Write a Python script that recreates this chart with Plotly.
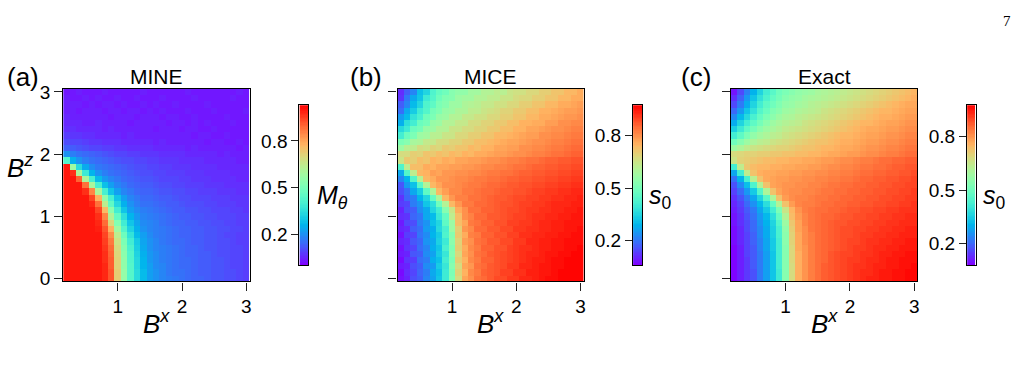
import math
import plotly.graph_objects as go

# ---------------- data ----------------
bx = [0.2, 0.3, 0.4, 0.5, 0.6, 0.7, 0.8, 0.9, 1.0, 1.1, 1.2, 1.3, 1.4, 1.5, 1.6,
      1.7, 1.8, 1.9, 2.0, 2.1, 2.2, 2.3, 2.4, 2.5, 2.6, 2.7, 2.8, 2.9, 3.0]
bz = [3.0, 2.9, 2.8, 2.7, 2.6, 2.5, 2.4, 2.3, 2.2, 2.1, 2.0, 1.9, 1.8, 1.7, 1.6,
      1.5, 1.4, 1.3, 1.2, 1.1, 1.0, 0.9, 0.8, 0.7, 0.6, 0.5, 0.4, 0.3, 0.2, 0.1, 0.0]

# values x100, one string per B^z row (top row first), one entry per B^x column
mine_rows = [
    "3 3 4 3 3 3 4 3 3 3 3 3 4 3 3 3 3 3 3 4 3 3 3 3 3 3 3 4 3",
    "4 3 3 4 3 4 3 3 4 3 3 4 3 3 3 4 3 3 3 3 4 3 3 3 3 3 4 3 3",
    "4 4 4 3 4 3 4 4 3 4 3 3 4 3 4 3 3 4 3 3 3 3 4 3 3 3 3 3 3",
    "4 4 3 4 4 4 3 4 4 3 4 4 3 4 3 4 3 3 3 4 3 3 3 4 3 3 3 3 4",
    "5 4 4 4 4 4 4 3 4 4 4 3 4 4 4 3 4 4 3 3 4 3 3 3 3 4 3 3 3",
    "5 5 5 4 4 5 4 4 4 4 3 4 4 4 4 4 3 4 4 3 4 3 4 3 3 3 4 3 3",
    "6 6 5 5 5 5 4 5 4 4 4 4 4 4 3 4 4 4 3 4 4 3 3 4 3 3 3 3 3",
    "8 7 7 6 6 5 5 5 5 4 5 4 4 4 4 4 4 4 4 4 3 4 4 3 3 4 3 3 3",
    "10 9 9 8 7 7 6 6 6 5 5 5 5 5 4 5 4 4 4 4 4 4 3 4 4 3 3 4 3",
    "13 12 11 10 9 9 8 8 7 7 6 6 6 6 5 5 5 5 5 4 5 4 4 4 4 4 4 3 4",
    "20 17 15 14 13 12 11 10 9 9 8 8 7 7 7 6 6 6 6 5 5 5 5 5 4 5 4 4 4",
    "42 25 20 17 15 14 13 12 11 10 10 9 9 8 8 7 7 7 6 6 6 6 5 5 5 5 5 4 4",
    "100 58 34 24 19 16 15 14 13 12 11 10 10 9 9 8 8 7 7 7 6 6 6 6 5 5 5 5 5",
    "100 97 60 38 26 20 17 15 14 13 12 11 10 10 9 9 8 8 8 7 7 7 6 6 6 6 5 5 5",
    "100 100 90 60 40 27 21 18 16 14 13 12 11 11 10 9 9 9 8 8 7 7 7 6 6 6 6 5 5",
    "100 100 100 88 60 40 28 22 18 16 14 13 12 12 11 10 10 9 9 8 8 8 7 7 7 6 6 6 6",
    "100 100 100 97 85 60 40 29 22 18 16 14 13 13 12 11 11 10 10 9 9 8 8 8 7 7 7 6 6",
    "100 100 100 100 94 78 55 40 29 22 18 16 14 14 13 12 12 11 10 10 9 9 9 8 8 8 7 7 7",
    "100 100 100 100 98 88 64 45 33 25 20 17 15 15 14 13 12 12 11 10 10 10 9 9 8 8 8 7 7",
    "100 100 100 100 100 94 76 54 39 29 22 19 17 16 15 14 13 12 12 11 11 10 10 9 9 9 8 8 7",
    "100 100 100 100 100 97 85 62 46 35 26 21 18 17 16 15 14 13 12 12 11 11 10 10 9 9 9 8 8",
    "100 100 100 100 100 98 89 70 52 39 29 23 19 18 17 15 14 13 13 12 12 11 11 10 10 9 9 8 8",
    "100 100 100 100 100 99 92 78 58 43 32 25 20 18 17 16 15 14 13 13 12 12 11 11 10 10 9 9 8",
    "100 100 100 100 100 100 94 84 64 48 36 27 22 19 17 16 15 14 13 13 12 12 11 11 10 9 9 8 8",
    "100 100 100 100 100 100 95 87 67 51 39 30 23 20 18 16 15 14 14 13 12 12 11 11 10 10 9 8 8",
    "100 100 100 100 100 100 96 89 69 53 41 31 24 20 18 17 16 15 14 13 13 12 11 11 10 10 9 9 8",
    "100 100 100 100 100 100 97 90 70 54 42 32 25 21 19 17 16 15 14 13 13 12 12 11 10 10 9 9 8",
    "100 100 100 100 100 100 97 91 71 55 42 33 26 21 19 17 16 15 14 14 13 12 12 11 11 10 9 9 8",
    "100 100 100 100 100 100 98 91 71 55 43 33 26 22 19 18 16 15 14 14 13 12 12 11 11 10 9 9 8",
    "100 100 100 100 100 100 98 92 72 56 43 34 27 22 20 18 16 15 15 14 13 12 12 11 11 10 10 9 8",
    "100 100 100 100 100 100 98 92 72 56 43 34 27 22 20 18 17 16 15 14 13 13 12 11 11 10 10 9 8",
]

mice_rows = [
    "11 17 22 31 35 43 47 49 53 55 55 58 58 61 61 63 62 65 66 66 68 68 70 70 72 72 74 74 76",
    "12 20 27 32 40 44 49 52 53 57 58 58 61 61 63 63 65 65 67 68 68 70 70 72 72 74 74 76 76",
    "17 22 30 35 43 46 51 53 57 57 60 61 62 64 64 66 66 68 68 70 70 72 72 74 74 76 76 77 78",
    "19 27 33 40 44 50 52 56 57 60 60 63 63 65 66 67 69 69 71 71 73 73 75 75 76 77 78 78 79",
    "25 30 38 42 49 51 56 57 61 61 64 64 66 66 68 68 70 70 72 72 74 74 76 76 77 78 79 79 80",
    "28 37 41 48 50 56 57 61 61 64 64 67 67 69 69 71 71 73 73 75 75 76 76 78 78 80 80 81 81",
    "36 40 48 50 56 57 61 61 65 65 67 67 69 69 71 71 73 73 75 75 77 77 78 79 80 80 81 82 82",
    "41 48 51 57 58 62 62 65 65 68 68 70 70 72 72 74 74 75 76 77 78 78 80 80 81 81 82 83 83",
    "51 53 59 60 64 64 67 67 69 69 71 71 73 73 74 75 76 77 77 78 79 80 80 81 82 82 83 84 84",
    "57 62 63 67 66 69 68 71 70 72 72 74 73 75 75 77 77 78 78 80 80 81 81 82 83 83 84 85 85",
    "67 67 70 69 72 71 73 72 74 73 75 74 76 76 77 78 78 79 80 80 81 82 82 83 84 84 85 86 86",
    "65 71 70 73 72 75 74 76 75 77 77 78 78 79 80 80 81 82 82 83 84 84 85 86 86 87 87 88 88",
    "43 63 73 73 76 75 77 77 78 78 79 79 80 81 81 82 82 83 84 84 85 86 86 87 87 88 88 89 89",
    "27 44 63 74 75 78 77 79 79 80 80 81 81 82 83 83 84 84 85 86 86 87 87 88 88 89 89 90 90",
    "22 29 44 62 74 76 79 79 80 81 81 82 83 83 84 84 85 86 86 87 87 88 88 89 89 90 90 91 91",
    "16 25 31 45 61 74 77 80 80 81 82 83 83 84 85 85 86 87 87 88 88 89 89 90 90 91 91 92 92",
    "15 19 27 33 46 60 74 78 81 81 83 83 84 85 85 86 87 87 88 88 89 90 90 91 91 92 92 93 93",
    "12 18 21 29 35 47 60 74 79 82 82 84 84 85 86 87 87 88 89 89 90 90 91 91 92 92 93 93 94",
    "13 14 21 24 32 37 49 61 74 79 83 83 85 85 86 87 88 88 89 90 90 91 91 92 93 93 93 94 94",
    "10 15 17 23 27 35 41 53 65 76 80 84 84 86 86 87 88 89 89 90 91 91 92 92 93 93 94 94 95",
    "11 12 18 20 27 30 39 47 63 73 80 82 85 85 87 87 88 89 90 90 91 92 92 93 93 94 94 95 95",
    "9 14 15 21 24 31 35 46 57 73 77 83 84 86 86 88 88 90 90 91 91 92 93 93 94 94 95 95 95",
    "10 11 17 19 25 28 36 42 57 70 79 81 85 85 87 87 89 89 91 91 92 92 93 93 94 94 95 95 96",
    "8 13 14 20 23 29 33 43 53 71 76 82 83 86 86 88 88 90 90 92 92 93 93 94 94 95 95 96 96",
    "10 11 16 18 24 27 34 40 54 69 78 80 84 85 87 87 89 89 91 91 93 93 94 94 95 95 96 96 96",
    "8 12 14 19 22 28 32 42 52 70 76 81 83 86 86 88 88 90 91 92 92 93 94 94 95 95 96 96 97",
    "9 10 16 17 23 26 33 39 53 68 77 80 84 85 87 88 89 90 91 92 93 93 94 95 95 96 96 97 97",
    "7 12 13 19 21 28 31 41 51 70 75 81 83 86 86 88 89 90 91 92 93 94 94 95 96 96 97 97 97",
    "9 10 15 17 23 25 33 39 53 67 77 79 84 85 87 88 89 91 91 93 93 94 95 95 96 96 97 97 97",
    "7 11 14 18 21 27 31 40 51 69 75 81 83 86 87 88 90 90 92 92 94 94 95 95 96 97 97 97 97",
    "8 10 15 17 22 26 32 40 52 67 77 80 84 85 87 89 89 91 91 93 93 94 95 96 96 97 97 97 97",
]

exact_rows = [
    "10 16 23 30 36 42 46 50 52 54 56 57 58 60 61 62 63 64 65 66 67 68 69 70 71 72 73 74 75",
    "13 19 26 33 39 44 48 51 54 56 57 59 60 61 62 63 64 65 66 67 68 69 70 71 72 73 74 75 76",
    "16 22 29 36 42 47 50 53 56 57 59 60 62 63 64 65 66 67 68 69 70 71 72 73 74 75 76 77 77",
    "20 26 33 39 45 49 53 55 58 59 61 62 63 64 66 67 68 69 70 71 72 73 74 75 75 76 77 78 78",
    "24 31 37 43 48 52 55 58 60 61 63 64 65 66 67 68 69 70 71 72 73 74 75 76 76 77 78 79 79",
    "29 36 42 47 51 55 58 60 62 63 64 66 67 68 69 70 71 72 73 74 75 75 76 77 78 78 79 80 80",
    "35 41 47 51 55 58 60 62 64 65 66 67 68 69 70 71 72 73 74 75 76 77 77 78 79 79 80 81 81",
    "42 47 52 56 59 61 63 64 66 67 68 69 70 71 72 73 74 75 75 76 77 78 78 79 80 80 81 82 82",
    "50 54 58 61 63 64 66 67 68 69 70 71 72 73 73 74 75 76 76 77 78 79 79 80 81 81 82 83 83",
    "58 61 64 66 67 68 69 70 70 71 72 73 73 74 75 75 76 77 77 78 79 80 80 81 82 82 83 84 84",
    "68 69 70 70 71 71 72 72 73 73 74 74 75 75 76 77 77 78 79 79 80 81 81 82 83 83 84 85 85",
    "66 70 71 72 73 74 74 75 75 76 76 77 77 78 79 79 80 81 81 82 83 83 84 85 85 86 86 87 87",
    "42 64 72 74 75 75 76 76 77 77 78 78 79 79 80 81 81 82 82 83 84 84 85 85 86 87 87 88 88",
    "28 42 64 73 76 77 77 78 78 79 79 80 80 81 81 82 82 83 83 84 85 85 86 86 87 87 88 88 89",
    "21 30 43 63 73 77 78 79 79 80 80 81 81 82 82 83 83 84 84 85 86 86 87 87 88 88 89 89 90",
    "17 24 32 44 62 73 78 79 80 80 81 81 82 82 83 84 84 85 85 86 86 87 87 88 88 89 89 90 90",
    "15 20 26 34 45 61 73 78 80 81 81 82 82 83 84 84 85 85 86 86 87 87 88 88 89 89 90 90 91",
    "13 17 22 28 36 46 61 73 79 81 82 82 83 84 84 85 85 86 86 87 87 88 88 89 89 90 90 91 91",
    "12 15 20 25 31 38 48 62 73 79 82 83 83 84 85 85 86 86 87 87 88 88 89 89 90 90 91 91 92",
    "11 14 18 22 28 34 42 52 66 75 80 83 84 85 85 86 86 87 88 88 89 89 90 90 91 91 92 92 92",
    "10 13 17 21 26 31 38 48 62 74 79 82 84 85 86 86 87 88 88 89 89 90 90 91 91 92 92 93 93",
    "10 13 16 20 25 30 36 45 58 72 78 82 84 85 86 87 88 88 89 89 90 90 91 91 92 92 93 93 93",
    "9 12 16 20 24 29 35 43 56 71 78 81 84 85 86 87 88 89 89 90 90 91 91 92 92 93 93 94 94",
    "9 12 15 19 24 29 35 43 55 70 77 81 83 85 86 87 88 89 89 90 91 91 92 92 93 93 94 94 94",
    "9 12 15 19 23 28 34 42 55 70 77 81 83 85 86 87 88 89 90 90 91 92 92 93 93 94 94 95 95",
    "8 11 15 18 23 28 34 42 54 69 77 80 83 85 86 87 88 89 90 91 91 92 93 93 94 94 95 95 95",
    "8 11 15 18 22 27 33 42 54 69 76 80 83 85 86 88 89 90 90 91 92 92 93 94 94 95 95 96 96",
    "8 11 14 18 22 27 33 42 54 69 76 80 83 85 86 88 89 90 91 91 92 93 93 94 95 95 96 96 96",
    "8 11 14 18 22 27 33 42 54 68 76 80 83 85 87 88 89 90 91 92 92 93 94 94 95 95 96 96 97",
    "8 11 14 17 22 27 33 41 54 68 76 80 83 85 87 88 89 90 91 92 93 93 94 95 95 96 96 97 97",
    "8 11 14 17 22 27 33 41 54 68 76 80 83 85 87 88 89 90 91 92 93 94 94 95 95 96 96 97 97",
]

panel_titles = ["MINE", "MICE", "Exact"]
panel_tags = ["(a)", "(b)", "(c)"]
cbar_titles = ["<i>M</i><sub><i>θ</i></sub>", "<i>s</i><sub>0</sub>", "<i>s</i><sub>0</sub>"]
cbar_ranges = [(0.0, 1.03), (0.06, 0.975), (0.077, 0.978)]
cbar_ticks = [0.2, 0.5, 0.8]
x_ticks = [1, 2, 3]
z_ticks = [0, 1, 2, 3]


def parse(rows):
    return [[int(v) / 100.0 for v in r.split()] for r in rows]


panels = [parse(mine_rows), parse(mice_rows), parse(exact_rows)]

# matplotlib-like "rainbow" colour map
colorscale = []
for i in range(41):
    t = i / 40
    r = min(1.0, abs(2 * t - 0.5))
    g = max(0.0, math.sin(math.pi * t))
    b = max(0.0, math.cos(math.pi * t / 2))
    colorscale.append([t, "rgb(%d,%d,%d)" % (round(r * 255), round(g * 255), round(b * 255))])

W, H = 1021, 379
FONT = "Liberation Sans, Arial, sans-serif"
TICK_SIZE = 19


def fx(px):
    return px / W


def fy(py):
    return 1 - py / H


plot_x = [(63.3, 250.0), (398.3, 585.0), (732.3, 919.3)]
plot_y = (85.0, 285.0)
cb_x = [(300.0, 309.0), (634.3, 643.3), (969.0, 977.5)]
cb_y = (102.0, 268.0)
cb_title_x = [316.0, 648.0, 983.0]

fig = go.Figure()
layout = dict(
    width=W, height=H, margin=dict(l=0, r=0, t=0, b=0),
    paper_bgcolor="white", plot_bgcolor="white",
    font=dict(family=FONT, size=TICK_SIZE, color="black"),
    showlegend=False,
)
annotations = []

for i in range(3):
    ax = i + 1
    xa = "x" if ax == 1 else "x%d" % ax
    ya = "y" if ax == 1 else "y%d" % ax
    fig.add_trace(go.Heatmap(
        x=bx, y=bz, z=panels[i], colorscale=colorscale,
        zmin=cbar_ranges[i][0], zmax=cbar_ranges[i][1],
        showscale=False, xaxis=xa, yaxis=ya, hoverinfo="skip",
    ))
    layout["xaxis" if ax == 1 else "xaxis%d" % ax] = dict(
        domain=[fx(plot_x[i][0]), fx(plot_x[i][1])], range=[0.15, 3.05],
        anchor=ya, tickvals=x_ticks, ticks="outside", ticklen=8, tickwidth=1.2,
        tickcolor="#222", showline=True, mirror=True, linecolor="black", linewidth=1.2,
        showgrid=False, zeroline=False, tickfont=dict(size=TICK_SIZE, family=FONT),
    )
    layout["yaxis" if ax == 1 else "yaxis%d" % ax] = dict(
        domain=[fy(plot_y[1]), fy(plot_y[0])], range=[-0.05, 3.05],
        anchor=xa, tickvals=z_ticks, ticks="outside", ticklen=8, tickwidth=1.2,
        tickcolor="#222", showline=True, mirror=True, linecolor="black", linewidth=1.2,
        showgrid=False, zeroline=False, tickfont=dict(size=TICK_SIZE, family=FONT),
        showticklabels=(i == 0),
    )

    # colour bar drawn on its own small axes
    cax = i + 4
    cxa, cya = "x%d" % cax, "y%d" % cax
    lo, hi = cbar_ranges[i]
    n = 120
    vals = [lo + (hi - lo) * k / (n - 1) for k in range(n)]
    fig.add_trace(go.Heatmap(
        x=[0], y=vals, z=[[v] for v in vals], colorscale=colorscale,
        zmin=lo, zmax=hi, showscale=False, xaxis=cxa, yaxis=cya, hoverinfo="skip",
    ))
    layout["xaxis%d" % cax] = dict(
        domain=[fx(cb_x[i][0]), fx(cb_x[i][1])], range=[-0.5, 0.5], anchor=cya,
        showticklabels=False, ticks="", showline=True, mirror=True,
        linecolor="black", linewidth=1.2, showgrid=False, zeroline=False,
    )
    layout["yaxis%d" % cax] = dict(
        domain=[fy(cb_y[1]), fy(cb_y[0])], range=[lo, hi], anchor=cxa, side="left",
        tickvals=cbar_ticks, ticktext=["%.1f" % v for v in cbar_ticks],
        ticks="outside", ticklen=7, tickwidth=1.2, tickcolor="#222",
        showline=True, mirror=True, linecolor="black", linewidth=1.2,
        showgrid=False, zeroline=False, tickfont=dict(size=TICK_SIZE, family=FONT),
    )

    cx = (plot_x[i][0] + plot_x[i][1]) / 2
    annotations.append(dict(text=panel_titles[i], x=fx(cx), y=fy(72), xref="paper", yref="paper",
                            xanchor="center", yanchor="middle", showarrow=False,
                            font=dict(size=21, family=FONT)))
    annotations.append(dict(text=panel_tags[i], x=fx([5, 349, 680][i]), y=fy(73), xref="paper",
                            yref="paper", xanchor="left", yanchor="middle", showarrow=False,
                            font=dict(size=26, family=FONT)))
    annotations.append(dict(text="<i>B</i><sup><i>x</i></sup>", x=fx(cx), y=fy(328), xref="paper",
                            yref="paper", xanchor="center", yanchor="middle", showarrow=False,
                            font=dict(size=26, family=FONT)))
    annotations.append(dict(text=cbar_titles[i], x=fx(cb_title_x[i]), y=fy(197), xref="paper",
                            yref="paper", xanchor="left", yanchor="middle", showarrow=False,
                            font=dict(size=25, family=FONT)))

annotations.append(dict(text="<i>B</i><sup><i>z</i></sup>", x=fx(20), y=fy(166), xref="paper",
                        yref="paper", xanchor="center", yanchor="middle", showarrow=False,
                        font=dict(size=26, family=FONT)))
annotations.append(dict(text="7", x=fx(1009), y=fy(15), xref="paper", yref="paper",
                        xanchor="center", yanchor="middle", showarrow=False,
                        font=dict(size=15, family="Liberation Serif, serif")))

layout["annotations"] = annotations
fig.update_layout(**layout)
fig.write_html("out.html")
